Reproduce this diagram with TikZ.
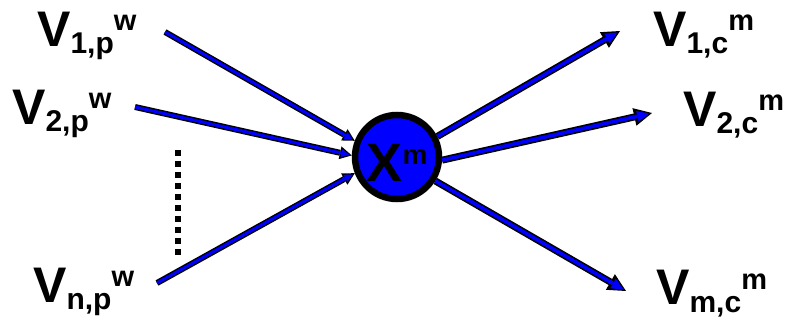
\documentclass[tikz,border=0pt]{standalone}
\usepackage{fontspec}
\setmainfont{Liberation Sans}
\usetikzlibrary{arrows.meta}
\newcommand{\vlab}[2]{V\raisebox{-7pt}{\fontsize{30}{30}\selectfont #1}\raisebox{16pt}{\fontsize{29}{29}\selectfont #2}}
\begin{document}
\begin{tikzpicture}[x=1pt,y=-1pt,
  lab/.style={anchor=base west,inner sep=0pt,font=\fontsize{50}{50}\selectfont\bfseries},
  hub/.style={circle,draw=black,fill=blue,line width=6.5pt,minimum size=84pt,inner sep=0pt,
    text height=50pt,text depth=0pt,font=\fontsize{54}{54}\selectfont\bfseries},
  inarr/.style={line width=6pt,black,-{Triangle[length=12pt,width=13pt,line width=0pt]},
    postaction={draw=blue,line width=3pt,-{Triangle[length=8pt,width=8pt,line width=0pt]},shorten >=2.6pt}},
  outarr/.style={line width=7pt,black,-{Triangle[length=18pt,width=18pt,line width=0pt]},
    postaction={draw=blue,line width=3.6pt,-{Triangle[length=12pt,width=11pt,line width=0pt]},shorten >=3pt}}
]
\useasboundingbox (0,0) rectangle (792,320);

\node[hub] (xm) at (397,157) {X\raisebox{17pt}[0pt][0pt]{\fontsize{28}{28}\selectfont m}};

\node[lab] (v1p) at (37,47) {\vlab{1,p}{w}};
\node[lab] (v2p) at (12,125) {\vlab{2,p}{w}};
\node[lab] (vnp) at (33,302) {\vlab{n,p}{w}};
\node[lab] (v1c) at (653,47) {\vlab{1,c}{m}};
\node[lab] (v2c) at (683,127) {\vlab{2,c}{m}};
\node[lab] (vmc) at (656,305) {\vlab{m,c}{m}};

% free ends of the arrows
\coordinate (in1) at (165,32);
\coordinate (in2) at (135,107);
\coordinate (inn) at (157,283);
\coordinate (out1) at (620,31);
\coordinate (out2) at (652,113);
\coordinate (outm) at (626,291);

\draw[inarr] (in1) -- (xm.159);
\draw[inarr] (in2) -- (xm.178);
\draw[inarr] (inn) -- (xm.201);
\draw[outarr] (xm.27) -- (out1);
\draw[outarr] (xm.356) -- (out2);
\draw[outarr] (xm.328) -- (outm);

% dots between the inputs
\coordinate (dtop) at (178,150);
\coordinate (dbot) at (178,256);
\draw[line width=6pt,dash pattern=on 6pt off 5pt] (dtop) -- (dbot);
\end{tikzpicture}
\end{document}
